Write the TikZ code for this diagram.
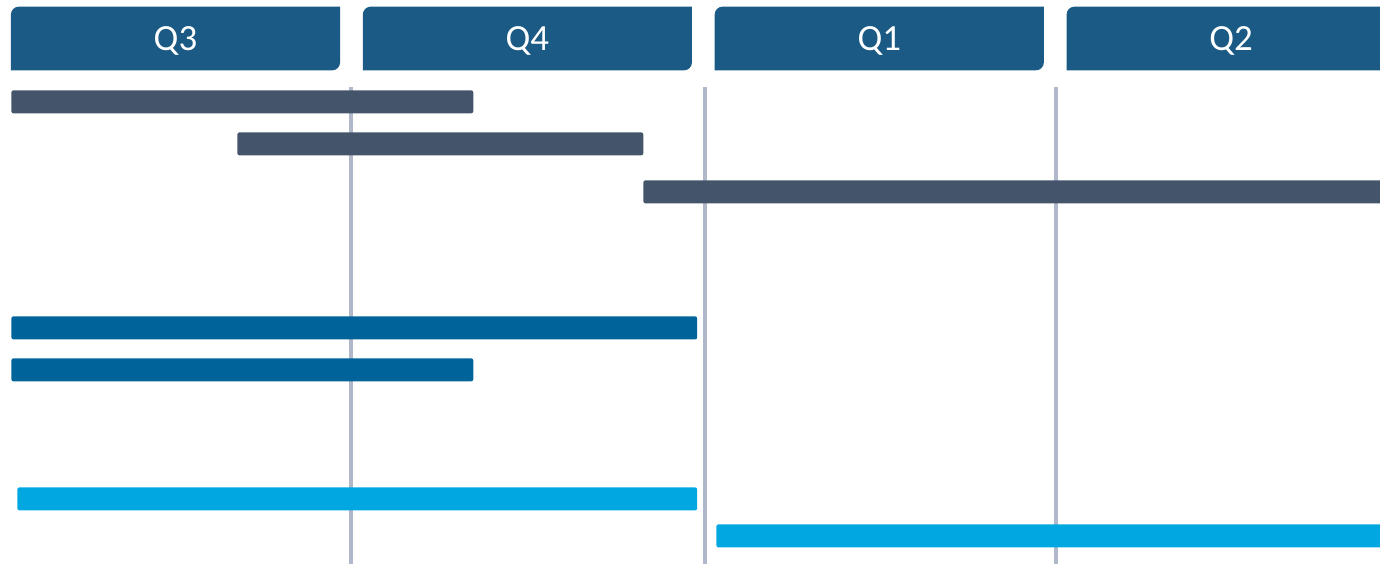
\documentclass[tikz,border=0pt]{standalone}
\usepackage{fontspec}
\setmainfont{Carlito}
\usetikzlibrary{positioning,backgrounds}
\usepackage{xcolor}

\definecolor{headblue}{HTML}{1A5A85}
\definecolor{slate}{HTML}{44546A}
\definecolor{deepblue}{HTML}{00639A}
\definecolor{skyblue}{HTML}{00A7E0}
\definecolor{gridgray}{HTML}{B0B8CA}

\begin{document}
\begin{tikzpicture}[x=0.02cm, y=-0.02cm, node distance=0.455cm,
    quarter/.style={
        text=white,
        font=\fontsize{21}{21}\selectfont,
        minimum width=6.57cm,
        minimum height=1.26cm,
        text depth=0pt,
        inner sep=0pt
    },
    task/.style={
        rounded corners=1.2pt,
        minimum height=0.46cm,
        inner sep=0pt,
        anchor=north west
    },
    gridline/.style={gridgray, line width=2.3pt}
]
        \clip (0,0) rectangle (1380,564);

        % quarter headers
        \node (q3) [quarter] at (175.5,38.5) {Q3};
        \node (q4) [quarter, right=of q3] {Q4};
        \node (q1) [quarter, right=of q4] {Q1};
        \node (q2) [quarter, right=of q1] {Q2};

        \begin{scope}[on background layer]
            \foreach \q in {q3,q4,q1,q2}
                \fill[headblue] (\q.south west)
                    -- ([yshift=-4.5pt]\q.north west)
                    arc[start angle=180, end angle=90, radius=4.5pt]
                    -- (\q.north east)
                    -- ([yshift=4.5pt]\q.south east)
                    arc[start angle=0, end angle=-90, radius=4.5pt]
                    -- cycle;
        \end{scope}

        % quarter boundaries
        \foreach \x in {351,705,1056}
            \draw[gridline] (\x,87) -- (\x,564);

        % tasks
        \node (t1) [task, fill=slate, minimum width=9.24cm] at (11,90) {};
        \node (t2) [task, fill=slate, minimum width=8.12cm] at (237,132) {};
        \node (t3) [task, fill=slate, minimum width=15cm] at (643,180) {};

        \node (t4) [task, fill=deepblue, minimum width=13.72cm] at (11,316) {};
        \node (t5) [task, fill=deepblue, minimum width=9.24cm] at (11,358) {};

        \node (t6) [task, fill=skyblue, minimum width=13.6cm] at (17,487) {};
        \node (t7) [task, fill=skyblue, minimum width=14cm] at (716,524) {};
    \end{tikzpicture}
\end{document}
